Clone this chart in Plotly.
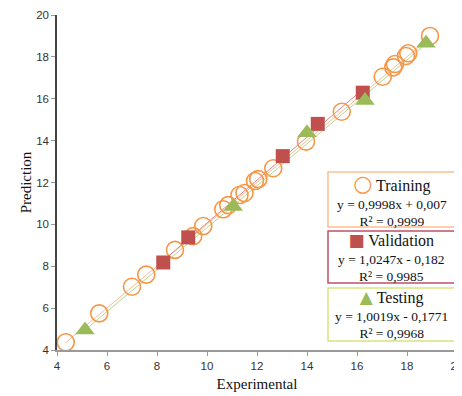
import plotly.graph_objects as go

train_x = [4.35, 5.69, 7.0, 7.57, 8.72, 9.45, 9.85, 10.65, 10.85, 11.3, 11.5, 11.92, 12.05, 12.65, 13.96, 15.39, 17.03, 17.45, 17.52, 17.96, 18.05, 18.92]
train_y = [4.37, 5.75, 7.02, 7.6, 8.78, 9.44, 9.92, 10.72, 10.92, 11.4, 11.5, 12.07, 12.16, 12.68, 13.95, 15.38, 17.05, 17.5, 17.66, 18.04, 18.17, 19.0]
val_x = [8.25, 9.25, 13.03, 14.43, 16.23]
val_y = [8.18, 9.38, 13.26, 14.8, 16.29]
test_x = [5.12, 11.05, 14.0, 16.32, 18.76]
test_y = [4.95, 10.85, 14.38, 15.92, 18.65]

fits = {
    "Training": (0.9998, 0.007, 0.9999),
    "Validation": (1.0247, -0.182, 0.9985),
    "Testing": (1.0019, -0.1771, 0.9968),
}

ORANGE = "#F79646"
RED = "#C0504D"
GREEN = "#9BBB59"

fig = go.Figure()

def trend(xs, name, color):
    a, b, _ = fits[name]
    x0, x1 = min(xs), max(xs)
    fig.add_trace(go.Scatter(x=[x0, x1], y=[a * x0 + b, a * x1 + b], mode="lines",
                             line=dict(color=color, width=1), showlegend=False, hoverinfo="skip"))

trend(train_x, "Training", "#F9BE93")
trend(val_x, "Validation", "#D9868A")
trend(test_x, "Testing", "#BAD58F")

fig.add_trace(go.Scatter(x=train_x, y=train_y, mode="markers", name="Training",
                         marker=dict(symbol="circle-open", size=17, color=ORANGE, line=dict(width=1.6, color=ORANGE))))
fig.add_trace(go.Scatter(x=val_x, y=val_y, mode="markers", name="Validation",
                         marker=dict(symbol="square", size=14, color=RED, line=dict(width=0))))
fig.add_trace(go.Scatter(x=test_x, y=test_y, mode="markers", name="Testing",
                         marker=dict(symbol="triangle-up", size=17, color=GREEN, line=dict(width=0))))

# legend boxes (paper coordinates)
boxes = [
    ("Training", "○", ORANGE, "#FAC090", 0.531, 0.367, 22),
    ("Validation", "■", RED, "#C0506A", 0.355, 0.200, 17),
    ("Testing", "▲", GREEN, "#D7E37D", 0.185, 0.027, 17),
]
for name, sym, col, border, y1, y0, symsize in boxes:
    a, b, r2 = fits[name]
    sign = "+" if b >= 0 else "-"
    bstr = f"{abs(b)}".replace(".", ",")
    astr = f"{a}".replace(".", ",")
    fig.add_shape(type="rect", xref="paper", yref="paper", x0=0.6775, x1=0.995, y0=y0, y1=y1,
                  line=dict(color=border, width=1.5), fillcolor="white", layer="above")
    fig.add_annotation(xref="paper", yref="paper", x=(0.6775 + 0.995) / 2, y=(y0 + y1) / 2,
                       xanchor="center", yanchor="middle", showarrow=False, align="center",
                       text=(f"<span style='font-size:{symsize}px;color:{col};font-family:DejaVu Sans'>{sym}</span>"
                             f"<span style='font-size:16px'> {name}</span><br>"
                             f"y = {astr}x {sign} {bstr}<br>R² = {str(r2).replace('.', ',')}"),
                       font=dict(family="Liberation Serif", size=13.5, color="#111"))

axis_common = dict(range=[4, 20], dtick=2, ticks="outside", ticklen=4, tickwidth=1,
                   showgrid=False, zeroline=False, showline=True, automargin=False,
                   tickfont=dict(family="Liberation Sans", size=11.5, color="#333"))
fig.update_xaxes(**axis_common, linecolor="#999999", linewidth=2, tickcolor="#999999",
                 ticklabeloverflow="allow",
                 title=dict(text="Experimental", font=dict(family="Liberation Serif", size=15, color="#111"), standoff=8))
fig.update_yaxes(**axis_common, linecolor="#444444", linewidth=1.5, tickcolor="#999999",
                 title=dict(text="Prediction", font=dict(family="Liberation Serif", size=15, color="#111"), standoff=1))

# page has an 8px body margin, so the figure is sized to fit the 462x396 window
fig.update_layout(width=454, height=388, margin=dict(l=49, r=5, t=7, b=46, autoexpand=False),
                  plot_bgcolor="white", paper_bgcolor="white", showlegend=False)

fig.write_html("out.html")
